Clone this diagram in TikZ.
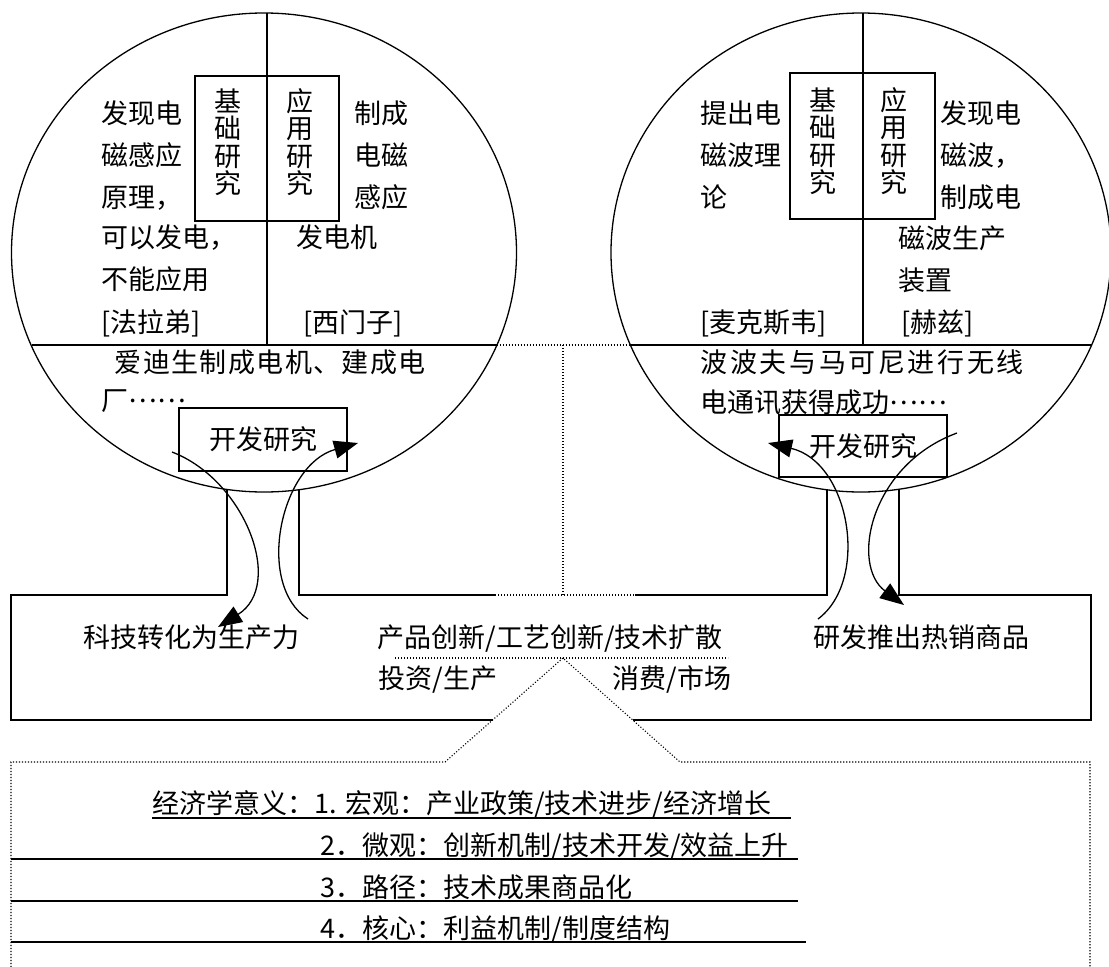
\documentclass[tikz,border=0pt]{standalone}
\usepackage{fontspec}
\setmainfont{Liberation Serif}
\newfontfamily\cjk{Noto Sans CJK SC}
\usetikzlibrary{arrows.meta,shapes.geometric}
\newcommand\fz{\cjk\fontsize{27}{27}\selectfont}
\newcommand\kk{\hspace{2.6pt}}
\newcommand\kj{\hspace{1.4pt}}
\newcommand\ddd{\raisebox{8pt}{……}}
\begin{document}
\begin{tikzpicture}[x=1pt,y=-1pt,line width=1.3pt,font=\fz,
  txt/.style={anchor=base west,inner sep=0pt},
  vtxt/.style={inner sep=0pt,align=center,font=\cjk\fontsize{27}{27.5}\selectfont},
  dots/.style={line width=1.1pt,dash pattern=on 1.1pt off 1.9pt},
  arr/.style={-{Triangle[length=24pt,width=18pt]},line width=1.3pt},
  uline/.style={line width=2pt},
  circ/.style={draw,ellipse,inner sep=0pt},
  boxn/.style={draw,inner sep=0pt}]
\useasboundingbox (0,0) rectangle (1109,967);
% circles
\node[circ,minimum width=505pt,minimum height=479pt] (cl) at (264,252.5) {};
\node[circ,minimum width=500pt,minimum height=479pt] (cr) at (861,252.5) {};
% coordinates
\coordinate (lvt) at (267,13); \coordinate (lvb) at (267,345);
\coordinate (lhl) at (31.5,345); \coordinate (lhr) at (496.5,345);
\coordinate (rvt) at (863,13); \coordinate (rvb) at (863,345);
\coordinate (rhl) at (630.4,345); \coordinate (rhr) at (1091.6,345);
\coordinate (mid) at (563,345); \coordinate (midb) at (563,595);
\coordinate (s1) at (227,489.5); \coordinate (s2) at (299,489.5);
\coordinate (s3) at (827,489.5); \coordinate (s4) at (899,489.5);
\coordinate (apex) at (563,658);
% circle dividers
\draw (lvt) -- (lvb); \draw (lhl) -- (lhr);
\draw (rvt) -- (rvb); \draw (rhl) -- (rhr);
\draw[dots] (lhr) -- (rhl);
\draw[dots] (mid) -- (midb);
% basic/applied boxes
\node[boxn,minimum width=144pt,minimum height=145pt] (bl) at (267,148.5) {};
\node[boxn,minimum width=145pt,minimum height=146pt] (br) at (862.5,146) {};
\node[vtxt] (jl) at (228,142) {基\\础\\研\\究};
\node[vtxt] (yl) at (300,142) {应\\用\\研\\究};
\node[vtxt] (jr) at (823,141) {基\\础\\研\\究};
\node[vtxt] (yr) at (894,141) {应\\用\\研\\究};
% left circle text
\node[txt] (a1) at (101,123) {发现电};
\node[txt] (a2) at (101,165) {磁感应};
\node[txt] (a3) at (101,207) {原理，};
\node[txt] (a4) at (101,247) {可以发电，};
\node[txt] (a5) at (101,289) {不能应用};
\node[txt] (a6) at (101,332) {[法拉弟]};
\node[txt] (b1) at (354,123) {制成};
\node[txt] (b2) at (354,165) {电磁};
\node[txt] (b3) at (354,207) {感应};
\node[txt] (b4) at (296,247) {发电机};
\node[txt] (b5) at (303,332) {[西门子]};
\node[txt] (c1) at (114,372) {爱\kj 迪\kj 生\kj 制\kj 成\kj 电\kj 机\kj 、\kj 建\kj 成\kj 电};
\node[txt] (c2) at (101,410) {厂\ddd};
\node[boxn,minimum width=168pt,minimum height=63pt] (kl) at (263,439.5) {开发研究};
% right circle text
\node[txt] (d1) at (700,123) {提出电};
\node[txt] (d2) at (700,165) {磁波理};
\node[txt] (d3) at (700,207) {论};
\node[txt] (d4) at (700,332) {[麦克斯韦]};
\node[txt] (e1) at (940,123) {发现电};
\node[txt] (e2) at (940,165) {磁波，};
\node[txt] (e3) at (940,207) {制成电};
\node[txt] (e4) at (898,248) {磁波生产};
\node[txt] (e5) at (898,290) {装置};
\node[txt] (e6) at (901,332) {[赫兹]};
\node[txt] (f1) at (700,372) {波\kk 波\kk 夫\kk 与\kk 马\kk 可\kk 尼\kk 进\kk 行\kk 无\kk 线};
\node[txt] (f2) at (700,412) {电通讯获得成功\ddd};
\node[boxn,minimum width=168pt,minimum height=62pt] (kr) at (863,446) {开发研究};
% lower box
\draw (s1) -- (227,595) -- (11,595) -- (11,720) -- (493,720);
\draw (633,720) -- (1091,720) -- (1091,595) -- (s4|-midb) -- (s4);
\draw (s2) -- (299,595) -- (495,595);
\draw[dots] (495,595) -- (635,595);
\draw (635,595) -- (827,595) -- (s3);
\node[txt] (g1) at (83,647) {科技转化为生产力};
\node[txt] (g2) at (377,647) {产品创新/工艺创新/技术扩散};
\node[txt] (g3) at (813,647) {研发推出热销商品};
\node[txt] (g4) at (378,688) {投资/生产};
\node[txt] (g5) at (612,688) {消费/市场};
\draw[dots] (395,658) -- (728,658);
% bottom dotted box
\draw[dots] (11,970) -- (11,762) -- (445,762) -- (apex) -- (680,762) -- (1090,762) -- (1090,970);
\node[txt] (h1) at (152,813) {经济学意义：1. 宏观：产业政策/技术进步/经济增长};
\node[txt] (h2) at (320,855) {2．微观：创新机制/技术开发/效益上升};
\node[txt] (h3) at (320,897) {3．路径：技术成果商品化};
\node[txt] (h4) at (320,938) {4．核心：利益机制/制度结构};
\draw[uline] (152,818) -- (791,818);
\draw[uline] (11,859) -- (798,859);
\draw[uline] (11,901) -- (798,901);
\draw[uline] (11,942) -- (806,942);
% arrows
\coordinate (A0) at (172,452); \coordinate (A1) at (218,627);
\coordinate (B0) at (308,619); \coordinate (B1) at (358,443);
\coordinate (C0) at (818,619); \coordinate (C1) at (768,443);
\coordinate (D0) at (957,433); \coordinate (D1) at (904,605);
\draw[arr] (A0) .. controls (245,480) and (285,585) .. (A1);
\draw[arr] (B0) .. controls (255,585) and (280,465) .. (B1);
\draw[arr] (C0) .. controls (870,580) and (850,462) .. (C1);
\draw[arr] (D0) .. controls (870,465) and (850,565) .. (D1);
\end{tikzpicture}
\end{document}
